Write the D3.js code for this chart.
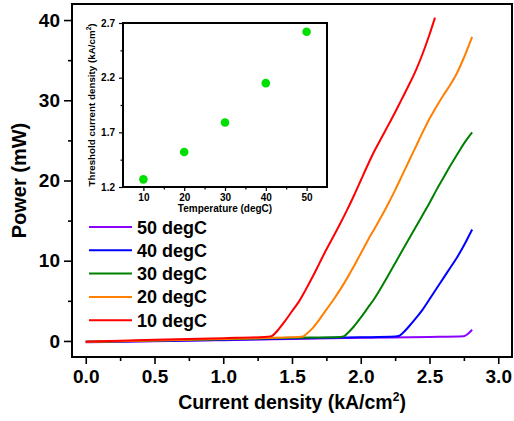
<!DOCTYPE html>
<html><head><meta charset="utf-8">
<script src="https://cdn.jsdelivr.net/npm/d3@7"></script>
<style>
body{margin:0;background:#fff;}
text{font-family:Arial,"Liberation Sans",sans-serif;font-weight:bold;fill:#000;}
</style></head>
<body>
<svg id="c" width="514" height="421"></svg>
<script>
// ---- data ----
const seriesNames = ["50 degC","40 degC","30 degC","20 degC","10 degC"];
const seriesColors = ["#8b00ff","#0000ff","#008000","#ff8000","#ff0000"];

const x50 = [0,0.5,1.0,1.5,2.0,2.5,2.75,2.78,2.81];
const y50 = [-0.15,-0.05,0.1,0.25,0.4,0.5,0.6,0.9,1.4];

const x40 = [0,0.5,1.0,1.5,2.0,2.25,2.28,2.3,2.35,2.4,2.45,2.5,2.55,2.6,2.65,2.7,2.75,2.81];
const y40 = [-0.1,0.0,0.15,0.3,0.45,0.55,0.65,0.9,1.8,2.8,3.9,5.2,6.5,7.8,9.1,10.4,11.9,13.9];

const x30 = [0,0.5,1.0,1.5,1.85,1.88,1.9,1.95,2.0,2.05,2.1,2.15,2.2,2.25,2.3,2.35,2.4,2.45,2.5,2.55,2.6,2.65,2.7,2.75,2.81];
const y30 = [-0.1,0.05,0.2,0.4,0.5,0.6,0.9,1.8,2.9,4.1,5.3,6.7,8.2,9.7,11.2,12.7,14.2,15.7,17.2,18.8,20.3,21.8,23.2,24.6,26.0];

const x20 = [0,0.5,1.0,1.5,1.58,1.6,1.65,1.7,1.75,1.8,1.85,1.9,1.95,2.0,2.05,2.1,2.15,2.2,2.25,2.3,2.35,2.4,2.45,2.5,2.55,2.6,2.65,2.7,2.75,2.81];
const y20 = [-0.1,0.05,0.25,0.45,0.55,0.8,1.6,2.7,3.9,5.1,6.4,7.8,9.3,10.9,12.5,14.0,15.5,17.1,18.8,20.6,22.4,24.2,26.0,27.7,29.2,30.6,31.9,33.4,35.3,37.9];

const x10 = [0,0.5,1.0,1.3,1.35,1.4,1.45,1.5,1.55,1.6,1.65,1.7,1.75,1.8,1.85,1.9,1.95,2.0,2.05,2.1,2.15,2.2,2.25,2.3,2.35,2.4,2.45,2.5,2.54];
const y10 = [-0.1,0.15,0.35,0.5,0.6,1.4,2.5,3.7,4.9,6.4,8.0,9.7,11.4,13.0,14.6,16.3,18.1,20.0,21.9,23.7,25.3,26.9,28.5,30.2,31.9,33.7,35.8,38.2,40.3];

const xTicks = [0,0.5,1.0,1.5,2.0,2.5,3.0];
const yTicks = [0,10,20,30,40];

const insetTemps = [10,20,30,40,50];
const insetThreshold = [1.27,1.52,1.79,2.15,2.62];
const insetXTicks = [10,20,30,40,50];
const insetYTicks = [1.2,1.7,2.2,2.7];

// ---- chart ----
const svg = d3.select("#c");
const L=72,T=4,R=512,B=357;
const x = d3.scaleLinear().domain([-0.1,3.1]).range([L,R]);
const y = d3.scaleLinear().domain([-2,42]).range([B,T]);

const series = [
  {xs:x50,ys:y50},{xs:x40,ys:y40},{xs:x30,ys:y30},{xs:x20,ys:y20},{xs:x10,ys:y10}
];

// axes
const gx = svg.append("g").attr("transform",`translate(0,${B})`)
  .call(d3.axisBottom(x).tickValues(xTicks).tickFormat(d3.format(".1f")).tickSize(7).tickPadding(6));
const gxm = svg.append("g").attr("transform",`translate(0,${B})`)
  .call(d3.axisBottom(x).tickValues([0.25,0.75,1.25,1.75,2.25,2.75]).tickFormat("").tickSize(4));
const gy = svg.append("g").attr("transform",`translate(${L},0)`)
  .call(d3.axisLeft(y).tickValues(yTicks).tickSize(8).tickPadding(4));
const gym = svg.append("g").attr("transform",`translate(${L},0)`)
  .call(d3.axisLeft(y).tickValues([5,15,25,35]).tickFormat("").tickSize(4));
[gx,gxm,gy,gym].forEach(g=>{
  g.select(".domain").remove();
  g.selectAll("line").attr("stroke","#000").attr("stroke-width",1.6);
});
gx.selectAll("text").attr("font-size",19).style("font-weight","bold");
gy.selectAll("text").attr("font-size",19).style("font-weight","bold");

// lines
const line = d3.line().x(d=>x(d[0])).y(d=>y(d[1])).curve(d3.curveMonotoneX);
series.forEach((s,i)=>{
  const pts = s.xs.map((v,j)=>[v,s.ys[j]]);
  svg.append("path").datum(pts).attr("d",line).attr("fill","none")
    .attr("stroke",seriesColors[i]).attr("stroke-width",2).attr("stroke-linejoin","round");
});

// frame
svg.append("rect").attr("x",L).attr("y",T).attr("width",R-L).attr("height",B-T)
  .attr("fill","none").attr("stroke","#000").attr("stroke-width",2);

// axis titles
svg.append("text").attr("transform",`translate(26,${(T+B)/2}) rotate(-90)`)
  .attr("text-anchor","middle").attr("font-size",20).text("Power (mW)");
const xt = svg.append("text").attr("x",(L+R)/2).attr("y",409)
  .attr("text-anchor","middle").attr("font-size",19.5);
xt.append("tspan").text("Current density (kA/cm");
xt.append("tspan").attr("font-size",12).attr("dy",-8).text("2");
xt.append("tspan").attr("dy",8).text(")");

// legend
const lg = svg.append("g");
seriesNames.forEach((n,i)=>{
  const yy = 227 + i*23.3;
  lg.append("line").attr("x1",89).attr("x2",132).attr("y1",yy).attr("y2",yy)
    .attr("stroke",seriesColors[i]).attr("stroke-width",2);
  lg.append("text").attr("x",137).attr("y",yy+6.5).attr("font-size",18).text(n);
});

// inset
const iL=123,iT=23,iR=327,iB=187;
const ix = d3.scaleLinear().domain([5,55]).range([iL,iR]);
const iy = d3.scaleLinear().domain([1.2,2.7]).range([iB,iT]);
svg.append("rect").attr("x",iL).attr("y",iT).attr("width",iR-iL).attr("height",iB-iT)
  .attr("fill","#fff").attr("stroke","none");
const igx = svg.append("g").attr("transform",`translate(0,${iB})`)
  .call(d3.axisBottom(ix).tickValues(insetXTicks).tickSize(4).tickPadding(3));
const igxm = svg.append("g").attr("transform",`translate(0,${iB})`)
  .call(d3.axisBottom(ix).tickValues([15,25,35,45]).tickFormat("").tickSize(2.5));
const igy = svg.append("g").attr("transform",`translate(${iL},0)`)
  .call(d3.axisLeft(iy).tickValues(insetYTicks).tickFormat(d3.format(".1f")).tickSize(4).tickPadding(4));
const igym = svg.append("g").attr("transform",`translate(${iL},0)`)
  .call(d3.axisLeft(iy).tickValues([1.45,1.95,2.45]).tickFormat("").tickSize(2.5));
[igx,igxm,igy,igym].forEach(g=>{
  g.select(".domain").remove();
  g.selectAll("line").attr("stroke","#000").attr("stroke-width",1.2);
});
igx.selectAll("text").attr("font-size",10).style("font-weight","bold");
igy.selectAll("text").attr("font-size",10).style("font-weight","bold");
svg.append("g").selectAll("circle").data(insetTemps).join("circle")
  .attr("cx",d=>ix(d)).attr("cy",(d,i)=>iy(insetThreshold[i])).attr("r",4.3)
  .attr("fill","#00e000");
svg.append("rect").attr("x",iL).attr("y",iT).attr("width",iR-iL).attr("height",iB-iT)
  .attr("fill","none").attr("stroke","#000").attr("stroke-width",2);
svg.append("text").attr("x",(iL+iR)/2).attr("y",212).attr("text-anchor","middle")
  .attr("font-size",10).text("Temperature (degC)");
const iyt = svg.append("text").attr("transform",`translate(95,${(iT+iB)/2}) rotate(-90)`)
  .attr("text-anchor","middle").attr("font-size",9.8);
iyt.append("tspan").text("Threshold current density (kA/cm");
iyt.append("tspan").attr("font-size",6.5).attr("dy",-4).text("2");
iyt.append("tspan").attr("dy",4).text(")");
</script>
</body></html>
